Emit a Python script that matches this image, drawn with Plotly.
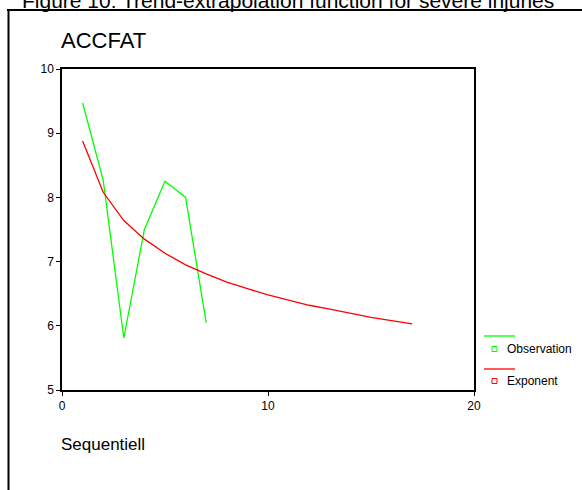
import plotly.graph_objects as go

# Data
obs_x = [1, 2, 3, 4, 5, 6, 7]
obs_y = [9.47, 8.27, 5.81, 7.50, 8.25, 8.00, 6.05]

exp_x = [1, 2, 3, 4, 5, 6, 7, 8, 9, 10, 11, 12, 13, 14, 15, 16, 17]
exp_y = [8.88, 8.08, 7.64, 7.35, 7.13, 6.95, 6.81, 6.68, 6.58, 6.48,
         6.40, 6.32, 6.26, 6.19, 6.13, 6.08, 6.03]

x_ticks = [0, 10, 20]
y_ticks = [5, 6, 7, 8, 9, 10]

W, H = 582, 490
L, R, T, B = 62, 108, 69, 100
PW, PH = W - L - R, H - T - B

def px(x):
    return (x - L) / PW

def py(y):
    return (H - B - y) / PH

FONT = "Liberation Sans, Arial, sans-serif"

fig = go.Figure()
fig.add_trace(go.Scatter(x=obs_x, y=obs_y, mode="lines", name="Observation",
                         line=dict(color="#00ff00", width=1.3)))
fig.add_trace(go.Scatter(x=exp_x, y=exp_y, mode="lines", name="Exponent",
                         line=dict(color="#ff0000", width=1.3)))

shapes = []
# page frame lines
shapes.append(dict(type="line", xref="paper", yref="paper",
                   x0=px(7), x1=px(582), y0=py(10), y1=py(10),
                   line=dict(color="black", width=2)))
shapes.append(dict(type="line", xref="paper", yref="paper",
                   x0=px(8.5), x1=px(8.5), y0=py(9), y1=py(492),
                   line=dict(color="black", width=2)))
# legend entries
for yl, ys, col in [(336, 349, "#00ff00"), (369, 381, "#ff0000")]:
    shapes.append(dict(type="line", xref="paper", yref="paper",
                       x0=px(484), x1=px(515), y0=py(yl), y1=py(yl),
                       line=dict(color=col, width=1.3)))
    shapes.append(dict(type="rect", xref="paper", yref="paper",
                       x0=px(492), x1=px(497), y0=py(ys - 2.5), y1=py(ys + 2.5),
                       line=dict(color=col, width=1), fillcolor="white"))

annotations = [
    dict(text="Figure 10: Trend-extrapolation function for severe injuries",
         xref="paper", yref="paper", x=px(288), y=py(0), xanchor="center",
         yanchor="middle", showarrow=False, font=dict(family=FONT, size=21, color="black")),
    dict(text="ACCFAT", xref="paper", yref="paper", x=px(59), y=py(40),
         xanchor="left", yanchor="middle", showarrow=False,
         font=dict(family=FONT, size=22, color="black")),
    dict(text="Sequentiell", xref="paper", yref="paper", x=px(59), y=py(444),
         xanchor="left", yanchor="middle", showarrow=False,
         font=dict(family=FONT, size=17, color="black")),
    dict(text="Observation", xref="paper", yref="paper", x=px(505), y=py(349),
         xanchor="left", yanchor="middle", showarrow=False,
         font=dict(family=FONT, size=12, color="black")),
    dict(text="Exponent", xref="paper", yref="paper", x=px(505), y=py(381),
         xanchor="left", yanchor="middle", showarrow=False,
         font=dict(family=FONT, size=12, color="black")),
]

fig.update_layout(
    width=W, height=H,
    margin=dict(l=L, r=R, t=T, b=B, pad=0),
    paper_bgcolor="white", plot_bgcolor="white",
    showlegend=False,
    shapes=shapes, annotations=annotations,
    font=dict(family=FONT, size=12, color="black"),
    xaxis=dict(range=[0, 20], tickvals=x_ticks, ticks="outside", ticklen=4,
               tickcolor="black", showline=True, linecolor="black", linewidth=1.5,
               mirror=True, showgrid=False, zeroline=False,
               tickfont=dict(family=FONT, size=12, color="black")),
    yaxis=dict(range=[5, 10], tickvals=y_ticks, ticks="outside", ticklen=4,
               tickcolor="black", showline=True, linecolor="black", linewidth=1.5,
               mirror=True, showgrid=False, zeroline=False,
               tickfont=dict(family=FONT, size=12, color="black")),
)

fig.write_html("out.html", config={"displayModeBar": False},
               post_script="document.body.style.margin='0';document.body.style.overflow='hidden';")
